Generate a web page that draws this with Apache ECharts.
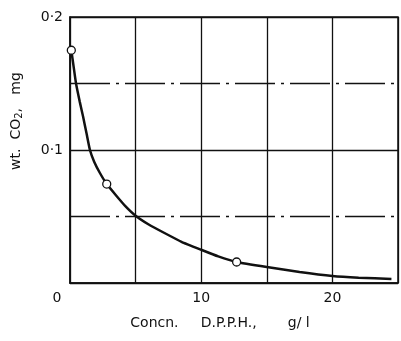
<!DOCTYPE html>
<html>
<head>
<meta charset="utf-8">
<script src="https://cdn.jsdelivr.net/npm/echarts@6/dist/echarts.min.js"></script>
<style>
  html, body { margin: 0; padding: 0; background: #fff; }
  #chart { width: 401px; height: 341px; }
</style>
</head>
<body>
<div id="chart"></div>
<script>
// curve (concentration g/l, wt CO2 mg)
const curveX = [0.1, 0.3, 0.46, 0.75, 1.0, 1.27, 1.52, 1.85, 2.28, 2.8, 3.5, 4.2, 5, 6, 7.2, 8.5, 10, 11.3, 12.7, 15, 17.5, 20, 22, 24.5]
const curveY = [0.175, 0.161, 0.15, 0.136, 0.125, 0.112, 0.1, 0.091, 0.0827, 0.0744, 0.066, 0.058, 0.0506, 0.044, 0.0376, 0.031, 0.025, 0.020, 0.0158, 0.012, 0.0083, 0.0053, 0.004, 0.003]

// measured points (open circles)
const pointX = [0.1, 2.8, 12.7]
const pointY = [0.175, 0.0744, 0.0158]

const dashDotY = [0.05, 0.15]

const ink  = '#111'
const font = 'DejaVu Sans'

const chart = echarts.init(document.getElementById('chart'))

chart.setOption({
  backgroundColor: '#fff',
  animation: false,
  grid: { left: 70, right: 3, top: 17, bottom: 58, show: true,
          borderColor: ink, borderWidth: 1.5, backgroundColor: 'transparent' },
  xAxis: {
    type: 'value', min: 0, max: 25, interval: 5,
    name: 'Concn.     D.P.P.H.,       g/ l', nameLocation: 'middle', nameGap: 33,
    nameTextStyle: { color: ink, fontFamily: font, fontSize: 14, padding: [0, 28, 0, 0] },
    axisLine: { lineStyle: { color: ink, width: 1.5 } },
    axisTick: { show: false },
    axisLabel: {
      color: ink, fontFamily: font, fontSize: 14, margin: 8,
      formatter: (v) => v === 0 ? '{o|0}' : (v % 10 === 0 ? String(v) : ''),
      rich: { o: { fontFamily: font, fontSize: 14, color: ink, padding: [0, 26, 0, 0] } },
    },
    splitLine: { lineStyle: { color: ink, width: 1.3 } },
  },
  yAxis: {
    type: 'value', min: 0, max: 0.2, interval: 0.05,
    name: 'wt.  CO{s|2},   mg', nameLocation: 'middle', nameGap: 46,
    nameTextStyle: {
      color: ink, fontFamily: font, fontSize: 14, padding: [0, 0, 0, 58],
      rich: { s: { fontFamily: font, fontSize: 10, color: ink, verticalAlign: 'bottom', padding: [6, 0, 0, 0] } },
    },
    axisLine: { lineStyle: { color: ink, width: 1.5 } },
    axisTick: { show: false },
    axisLabel: {
      color: ink, fontFamily: font, fontSize: 14, margin: 7,
      formatter: (v) => (Math.abs(v - 0.1) < 1e-9 || Math.abs(v - 0.2) < 1e-9) ? v.toFixed(1).replace('.', '·') : '',
    },
    splitLine: {
      lineStyle: { color: [ink, 'transparent', ink, 'transparent', ink], width: 1.3 },
    },
  },
  series: [
    {
      type: 'line', smooth: 0.15, symbol: 'none',
      data: curveX.map((x, i) => [x, curveY[i]]),
      lineStyle: { color: ink, width: 2.5 },
      markLine: {
        silent: true, symbol: 'none', label: { show: false },
        lineStyle: { color: ink, width: 1.3, type: [40, 6, 3, 6] },
        data: dashDotY.map((y) => ({ yAxis: y })),
      },
      z: 3,
    },
    {
      type: 'scatter', symbol: 'circle', symbolSize: 8,
      data: pointX.map((x, i) => [x, pointY[i]]),
      itemStyle: { color: '#fff', borderColor: ink, borderWidth: 1.3, opacity: 1 },
      z: 4,
    },
  ],
})
</script>
</body>
</html>
